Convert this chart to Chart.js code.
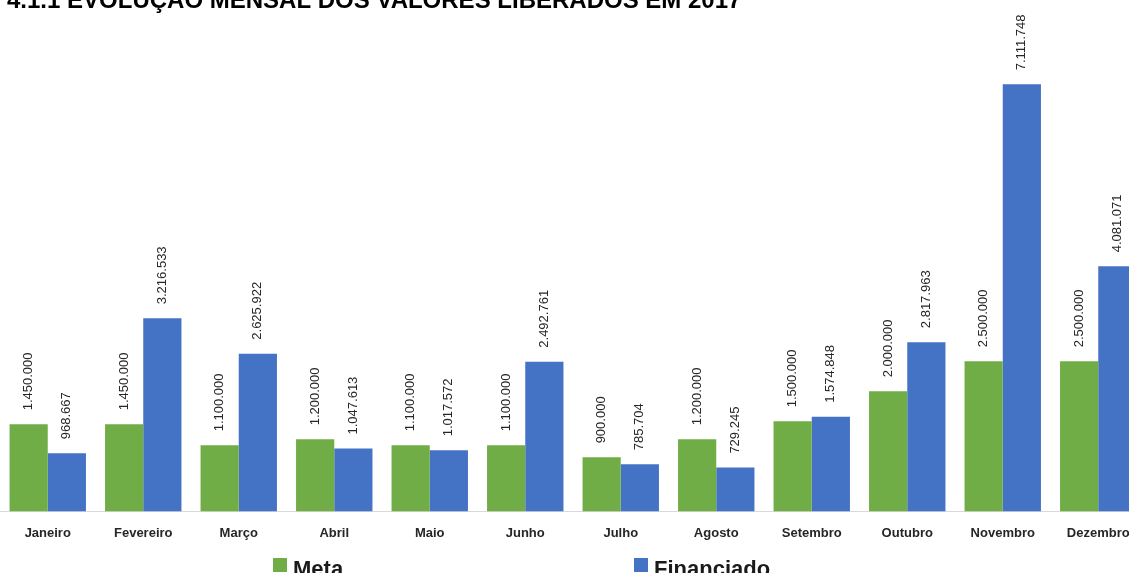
<!DOCTYPE html>
<html>
<head>
<meta charset="utf-8">
<script src="https://cdn.jsdelivr.net/npm/chart.js@4/dist/chart.umd.min.js"></script>
<style>
  html, body { margin: 0; padding: 0; background: #fff; overflow: hidden; }
  #wrap { position: relative; width: 1146px; height: 573px; }
</style>
</head>
<body>
<div id="wrap"><canvas id="liberados"></canvas></div>
<script>
let meses = ['Janeiro', 'Fevereiro', 'Março', 'Abril', 'Maio', 'Junho', 'Julho', 'Agosto', 'Setembro', 'Outubro', 'Novembro', 'Dezembro'];
let meta = [1450000, 1450000, 1100000, 1200000, 1100000, 1100000, 900000, 1200000, 1500000, 2000000, 2500000, 2500000];
let financiado = [968667, 3216533, 2625922, 1047613, 1017572, 2492761, 785704, 729245, 1574848, 2817963, 7111748, 4081071];
let titulo = '4.1.1 EVOLUÇÃO MENSAL DOS VALORES LIBERADOS EM 2017';

let verde = '#70AD47';
let azul = '#4472C4';

// 1.450.000 style
function fmt(v) {
  return String(v).replace(/\B(?=(\d{3})+(?!\d))/g, '.');
}

// vertical value labels above each bar
const valoresPlugin = {
  id: 'valores',
  afterDatasetsDraw(chart) {
    const ctx = chart.ctx;
    ctx.save();
    ctx.font = '13px "Liberation Sans", Arial, sans-serif';
    ctx.fillStyle = '#262626';
    ctx.textAlign = 'left';
    ctx.textBaseline = 'middle';
    chart.data.datasets.forEach((ds, i) => {
      chart.getDatasetMeta(i).data.forEach((bar, j) => {
        ctx.save();
        ctx.translate(bar.x, bar.y - 14);
        ctx.rotate(-Math.PI / 2);
        ctx.fillText(fmt(ds.data[j]), 0, 0);
        ctx.restore();
      });
    });
    ctx.restore();
  }
};

// title (top edge cropped) and the spread-out legend at the bottom
const molduraPlugin = {
  id: 'moldura',
  afterDraw(chart) {
    const ctx = chart.ctx;
    ctx.save();
    ctx.fillStyle = '#000';
    ctx.font = 'bold 24px "Liberation Sans", Arial, sans-serif';
    ctx.textBaseline = 'alphabetic';
    ctx.textAlign = 'left';
    ctx.fillText(titulo, 7, 8);

    const itens = [
      { txt: 'Meta', cor: verde, x: 273 },
      { txt: 'Financiado', cor: azul, x: 634 }
    ];
    ctx.font = 'bold 22px "Liberation Sans", Arial, sans-serif';
    itens.forEach(it => {
      ctx.fillStyle = it.cor;
      ctx.fillRect(it.x, 558, 14, 14);
      ctx.fillStyle = '#1a1a1a';
      ctx.fillText(it.txt, it.x + 20, 576);
    });
    ctx.restore();
  }
};

const ctx = document.getElementById('liberados').getContext('2d');
const chart = new Chart(ctx, {
  type: 'bar',
  data: {
    labels: meses,
    datasets: [
      { label: 'Meta', data: meta, backgroundColor: verde, categoryPercentage: 0.8, barPercentage: 1.0 },
      { label: 'Financiado', data: financiado, backgroundColor: azul, categoryPercentage: 0.8, barPercentage: 1.0 }
    ]
  },
  options: {
    responsive: true,
    maintainAspectRatio: false,
    animation: false,
    layout: { padding: { top: 31, bottom: 18, left: 0, right: 0 } },
    plugins: {
      legend: { display: false },
      tooltip: { enabled: false }
    },
    scales: {
      x: {
        grid: { display: false, drawTicks: false },
        border: { display: true, color: '#d9d9d9', width: 1 },
        ticks: {
          padding: 14,
          color: '#262626',
          font: { family: '"Liberation Sans", Arial, sans-serif', size: 13, weight: 'bold' },
          maxRotation: 0,
          autoSkip: false
        }
      },
      y: {
        display: false,
        min: 0,
        max: 8000000
      }
    }
  },
  plugins: [valoresPlugin, molduraPlugin]
});
</script>
</body>
</html>
